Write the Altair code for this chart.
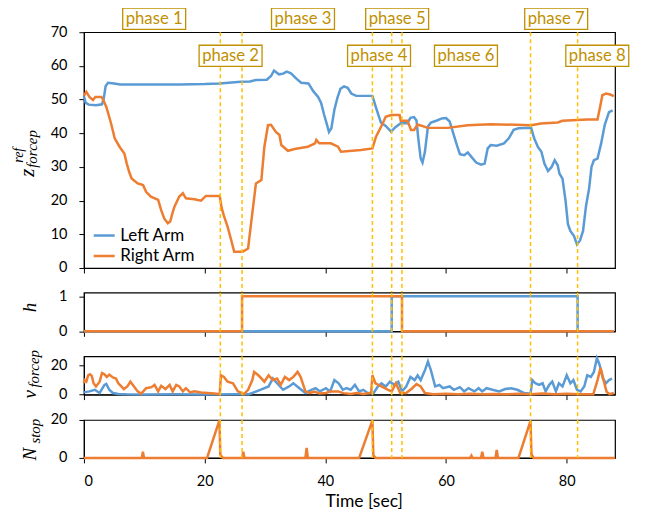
import altair as alt
import pandas as pd

BLUE = "#5B9BD5"
ORANGE = "#ED7D31"
GOLD = "#FFC000"
PHASE_COL = "#BF9000"
FONT = "Lato"
MATH = "Liberation Serif"

# ---------------- data ----------------
left_t = [0.0, 0.3, 0.8, 2.0, 3.0, 3.3, 3.6, 4.0, 5.0, 6.0, 8.0, 12.0, 16.0, 20.0, 22.5, 24.0, 26.0,
          27.5, 28.5, 30.3, 31.0, 31.5, 32.3, 33.0, 33.6, 34.3, 35.2, 36.0, 37.2, 38.0, 38.8, 39.3,
          39.8, 40.2, 40.6, 41.0, 41.5, 42.0, 42.5, 43.1, 43.7, 44.3, 45.1, 47.8, 48.5, 49.2, 50.0,
          50.9, 51.6, 52.5, 53.6, 54.1, 54.7, 55.1, 55.4, 55.8, 56.1, 56.5, 57.0, 57.5, 58.5, 59.3,
          60.0, 60.6, 61.2, 61.8, 62.3, 63.0, 63.6, 64.2, 65.0, 65.8, 66.4, 66.9, 67.4, 68.4, 69.6,
          70.4, 71.2, 72.0, 74.1, 74.6, 75.2, 75.8, 76.3, 76.9, 77.5, 78.0, 78.5, 78.8, 79.3, 79.8,
          80.2, 80.6, 81.2, 81.7, 82.2, 82.7, 83.2, 83.7, 84.1, 84.5, 85.1, 85.7, 86.3, 87.0, 87.6]
left_z = [51.0, 49.0, 48.5, 48.3, 48.6, 50.5, 54.0, 55.0, 54.8, 54.5, 54.5, 54.5, 54.5, 54.6, 54.8,
          55.0, 55.3, 55.4, 55.8, 55.9, 57.0, 58.6, 57.5, 57.7, 58.3, 57.8, 56.2, 55.0, 54.8, 52.5,
          50.8, 49.0, 45.5, 43.0, 40.4, 41.5, 47.0, 50.5, 53.2, 53.9, 53.5, 51.8, 51.1, 51.1, 47.0,
          43.2, 42.2, 40.5, 41.8, 43.0, 43.0, 44.6, 44.8, 43.8, 38.5, 32.5, 31.3, 34.5, 42.0, 43.2,
          43.8, 44.4, 44.5, 43.5, 40.0, 36.5, 33.8, 33.5, 34.3, 33.0, 31.3, 30.7, 31.0, 35.5, 36.5,
          36.3, 37.0, 38.5, 41.0, 41.5, 41.6, 38.5, 36.0, 34.5, 31.0, 28.8, 30.0, 32.0, 30.5, 28.0,
          26.5, 20.0, 13.0, 11.0, 9.5, 7.0, 8.2, 11.0, 18.5, 23.5, 30.0, 32.0, 32.5, 37.0, 42.5,
          46.3, 46.8]

right_t = [0.0, 0.4, 0.9, 1.5, 1.9, 2.9, 3.2, 3.7, 4.5, 5.1, 5.9, 6.7, 7.1, 7.5, 7.9, 8.9, 9.8, 10.3,
           11.1, 12.3, 12.8, 13.3, 13.9, 14.3, 14.7, 15.0, 15.8, 16.4, 16.9, 18.3, 19.4, 20.2, 22.5,
           22.8, 23.2, 23.8, 24.4, 24.9, 26.3, 27.2, 27.7, 28.5, 29.4, 29.9, 30.5, 31.0, 31.8, 32.4,
           32.7, 33.8, 34.9, 37.1, 38.3, 38.5, 39.0, 40.9, 42.1, 42.6, 45.9, 47.8, 48.4, 49.5, 50.0,
           50.9, 52.3, 52.5, 53.6, 54.2, 54.7, 55.3, 57.0, 60.3, 63.6, 67.4, 74.1, 75.7, 78.5, 79.3,
           83.4, 85.1, 85.6, 85.9, 86.5, 87.2, 87.8]
right_z = [51.2, 52.3, 50.8, 49.9, 50.8, 50.8, 49.9, 47.9, 42.9, 38.5, 36.0, 34.0, 31.0, 28.5, 26.6,
           25.1, 24.6, 22.6, 21.2, 20.2, 17.2, 14.7, 13.3, 13.8, 16.5, 18.2, 21.2, 22.2, 20.7, 20.4,
           20.0, 21.4, 21.4, 18.0, 15.5, 12.3, 8.3, 4.8, 4.8, 5.8, 13.3, 25.1, 26.1, 36.0, 42.4, 42.5,
           40.4, 39.5, 36.5, 34.8, 35.3, 36.0, 37.0, 38.0, 37.0, 37.0, 36.0, 34.5, 35.0, 35.5, 39.0,
           42.9, 44.9, 45.4, 45.4, 43.7, 43.7, 41.0, 41.0, 42.6, 41.6, 41.6, 42.4, 42.7, 42.4, 42.9,
           43.2, 43.7, 44.1, 44.1, 48.5, 51.3, 51.8, 51.5, 51.0]

h_left_t = [0.0, 51.0, 81.8, 87.8]
h_left_v = [0, 1, 0, 0]
h_right_t = [0.0, 26.2, 52.7, 87.8]
h_right_v = [0, 1, 0, 0]

v_right_t = [0.0, 0.1, 0.4, 0.7, 1.0, 1.3, 1.6, 2.0, 2.6, 3.0, 3.4, 3.8, 4.2, 4.8, 5.3, 5.7, 6.2, 6.6,
             7.2, 7.7, 8.3, 8.9, 9.5, 10.3, 11.2, 11.7, 12.3, 12.8, 13.5, 14.2, 14.7, 15.3, 15.8, 16.4,
             16.9, 17.6, 18.3, 19.4, 20.5, 21.6, 22.5, 22.7, 23.2, 23.8, 24.7, 25.5, 26.1, 26.5, 27.2,
             27.9, 28.2, 28.9, 29.9, 30.6, 31.3, 32.0, 32.6, 33.3, 34.0, 34.7, 35.4, 35.9, 36.7, 37.4,
             38.2, 39.0, 40.1, 40.8, 42.1, 43.0, 44.2, 45.2, 46.3, 47.6, 47.8, 48.3, 49.3, 50.4, 51.0,
             51.7, 52.4, 53.4, 54.4, 55.1, 55.8, 56.5, 57.9, 60.0, 62.0, 64.0, 66.0, 68.0, 70.0, 72.0,
             74.0, 76.0, 78.0, 80.0, 82.0, 84.4, 85.1, 85.6, 86.1, 86.6, 87.1, 87.8]
v_right_v = [7.8, 10, 9, 13.3, 14, 12.9, 7.8, 5.6, 8.9, 14.9, 14, 12.2, 13.8, 11.8, 11.1, 7.8, 5.6,
             3.8, 5.6, 8.9, 5.6, 2.2, 0.7, 4.4, 5.1, 6.7, 2.2, 6.0, 3.8, 6.7, 2.2, 6.7, 5.6, 2.2, 4.4,
             1.5, 2.2, 1.5, 1.1, 0.7, 0.2, 13.3, 12.2, 8.9, 7.8, 2.2, 1.1, 0.2, 3.3, 10, 15.6, 13.3,
             8.9, 13.3, 10, 11.1, 6.7, 12.2, 10, 12.2, 15.6, 12.2, 2.2, 1.1, 2.0, 0.8, 1.1, 2.2, 2.2,
             1.0, 0.4, 1.0, 0.4, 1.1, 13.3, 7.8, 5.6, 3.3, 2.2, 7.8, 1.1, 1.1, 4.4, 7.3, 5.6, 1.1, 0.2,
             0.5, 0.3, 0.6, 0.2, 0.4, 0.2, 0.5, 0.3, 0.8, 0.3, 0.5, 0.2, 0.2, 10, 18.4, 10, 2, 0.3, 1.1]

v_left_t = [0.0, 0.9, 1.8, 2.6, 3.4, 3.7, 4.2, 4.8, 5.7, 7.0, 10.0, 15.0, 20.0, 25.0, 27.3, 27.9, 29.2,
            30.6, 31.3, 32.0, 33.0, 34.0, 34.7, 35.7, 36.7, 37.7, 38.4, 39.1, 40.1, 40.8, 41.5, 42.2,
            42.9, 43.5, 44.2, 44.9, 45.6, 46.3, 47.0, 48.0, 48.7, 49.3, 50.0, 50.7, 51.4, 52.1, 52.7,
            53.4, 54.1, 54.8, 55.3, 55.8, 56.5, 57.0, 57.5, 58.2, 58.9, 59.5, 60.6, 61.3, 62.3, 63.0,
            63.7, 64.7, 65.4, 66.0, 66.7, 67.7, 68.8, 69.8, 70.8, 71.8, 72.9, 74.0, 74.3, 74.8, 75.4,
            76.0, 76.5, 77.1, 77.6, 78.2, 78.7, 79.3, 80.0, 80.6, 81.1, 81.7, 82.3, 82.9, 83.4, 84.0,
            84.5, 85.0, 85.4, 86.0, 86.5, 87.0, 87.5]
v_left_v = [1.5, 2.2, 3.3, 1.1, 6.7, 7.3, 3.3, 1.1, 0.4, 0.2, 0.1, 0.2, 0.1, 0.2, 0.3, 1.1, 3.3, 5.6,
            11.1, 7.8, 3.3, 5.6, 7.8, 4.4, 1.1, 3.3, 4.4, 2.2, 4.4, 2.2, 10, 7.8, 3.3, 4.4, 3.3, 6.7,
            2.2, 3.3, 1.1, 1.1, 5.6, 7.8, 5.6, 8.9, 6.7, 8.9, 2.2, 5.6, 12.2, 10, 13.3, 10, 16.7, 22.7,
            16.7, 5.6, 6.7, 4.4, 5.6, 3.3, 5.1, 2.2, 4.4, 2.2, 4.4, 2.2, 4.4, 3.3, 2.2, 3.8, 4.4, 3.3,
            1.1, 0.5, 10, 7.8, 6.7, 7.8, 2.2, 6.7, 8.9, 2.2, 7.8, 5.6, 13.3, 7.8, 10, 3.3, 2.2, 5.6,
            13.3, 12.2, 15.6, 25.1, 21.1, 11.1, 7.8, 10, 11.1]

n_right_t = [0.0, 9.6, 9.77, 9.95, 20.4, 22.45, 22.6, 23.0, 26.2, 26.4, 26.6, 36.7, 36.9, 37.1, 45.6,
             47.8, 47.95, 48.3, 64.0, 64.2, 64.4, 65.8, 66.0, 66.2, 68.2, 68.4, 68.6, 72.0, 74.0,
             74.15, 74.5, 88.0]
n_right_v = [0, 0, 3.3, 0, 0, 19.8, 1.8, 0, 0, 3.3, 0, 0, 5.3, 0, 0, 19.8, 1.5, 0, 0, 1.2, 0, 0, 3.2,
             0, 0, 4.2, 0, 0, 19.5, 2.0, 0, 0]

phase_lines = [22.6, 26.2, 47.8, 51.0, 52.7, 74.0, 81.8]
phase_names = ["phase 1", "phase 2", "phase 3", "phase 4", "phase 5", "phase 6", "phase 7", "phase 8"]
phase_x = [11.64, 24.3, 36.3, 48.9, 51.9, 63.3, 78.25, 85.06]
phase_y = [74.0, 63.0, 74.0, 63.0, 74.0, 63.0, 74.0, 63.0]

arms = ["Left Arm", "Right Arm"]

# ---------------- layout ----------------
W = 531.6
H1, H2, H3, H4 = 236, 38.7, 38.3, 38
GAP = 24.7


def long(t_left, v_left, t_right, v_right):
    a = pd.DataFrame({"t": t_left, "v": v_left, "arm": arms[0]})
    b = pd.DataFrame({"t": t_right, "v": v_right, "arm": arms[1]})
    return pd.concat([a, b], ignore_index=True)


def x_enc(last):
    kw = dict(values=[0, 20, 40, 60, 80], grid=False, ticks=True, tickSize=5, tickColor="black",
              domainColor="black", labelFont=FONT, labelFontSize=14.5, labelColor="black",
              labelPadding=12, labelOverlap=False)
    if last:
        kw.update(title="Time [sec]", titleFont=FONT, titleFontSize=17.5, titleFontWeight="normal",
                  titleColor="black", titlePadding=4, titleX=280, labels=True)
    else:
        kw.update(title=None, labels=False)
    return alt.X("t:Q", scale=alt.Scale(domain=[0, 88], nice=False, zero=False), axis=alt.Axis(**kw))


def y_enc(ydom, vals):
    ax = alt.Axis(values=vals, title=None, grid=False, tickSize=5, tickColor="black",
                  domainColor="black", labelFont=FONT, labelFontSize=14.5, labelColor="black",
                  labelPadding=12, labelOverlap=False, format="d")
    return alt.Y("v:Q", scale=alt.Scale(domain=ydom, nice=False, zero=False), axis=ax)


def color_enc(with_legend):
    sc = alt.Scale(domain=arms, range=[BLUE, ORANGE])
    if with_legend:
        lg = alt.Legend(orient="none", legendX=8.3, legendY=191.5, title=None, symbolType="stroke",
                        symbolStrokeWidth=2.5, symbolSize=441, labelFont=FONT, labelFontSize=17,
                        labelColor="black", padding=0, rowPadding=0.5, labelOffset=4)
        return alt.Color("arm:N", scale=sc, legend=lg)
    return alt.Color("arm:N", scale=sc, legend=None)


def rules(ext, last):
    return alt.Chart(pd.DataFrame({"t": phase_lines})).mark_rule(
        color=GOLD, strokeDash=[4, 3], strokeWidth=1.5
    ).encode(x=x_enc(last), y=alt.value(0), y2=alt.value(ext))


def piece(txt, x, y, size):
    return alt.Chart(pd.DataFrame({"s": [txt]})).mark_text(
        angle=270, align="left", baseline="alphabetic", font=MATH, fontStyle="italic",
        fontSize=size, color="black"
    ).encode(text="s:N", x=alt.value(x), y=alt.value(y))


def line_panel(df, ydom, yvals, last, legend, interp="linear"):
    return alt.Chart(df).mark_line(strokeWidth=2.5, interpolate=interp).encode(
        x=x_enc(last), y=y_enc(ydom, yvals), color=color_enc(legend),
    )


# panel 1
Y1 = ([0, 70], [0, 10, 20, 30, 40, 50, 60, 70])
df1 = long(left_t, left_z, right_t, right_z)
ph = pd.DataFrame({"t": phase_x, "v": phase_y, "label": phase_names})
box_path = "M-1,-0.335L1,-0.335L1,0.335L-1,0.335Z"
boxes = alt.Chart(ph).mark_point(shape=box_path, size=3969, filled=True, fill="white",
                                 stroke=PHASE_COL, strokeWidth=1.3, opacity=1).encode(
    x=x_enc(False), y=y_enc(*Y1))
labels = alt.Chart(ph).mark_text(font=FONT, fontSize=16.7, color=PHASE_COL).encode(
    x=x_enc(False), y=y_enc(*Y1), text="label:N")
# invisible (white) layout anchor that fixes the top-left corner of the drawing
anchor = alt.Chart(pd.DataFrame({"a": [0]})).mark_rect(color="white", opacity=1).encode(
    x=alt.value(-74.7), x2=alt.value(-68.7), y=alt.value(-24.3), y2=alt.value(-12.3))

p1 = alt.layer(
    anchor, line_panel(df1, *Y1, False, True),
    rules(H1 + GAP, False), boxes, labels,
    piece("z", -49.7, 144.7, 21), piece("forcep", -46.5, 135.7, 15), piece("ref", -61.2, 130.7, 14),
).properties(width=W, height=H1)

# panel 2
df2 = long(h_left_t, h_left_v, h_right_t, h_right_v)
p2 = alt.layer(
    line_panel(df2, [0, 1.1], [0, 1], False, False, interp="step-after"),
    rules(H2 + GAP, False), piece("h", -47.7, 19.7, 19),
).properties(width=W, height=H2)

# panel 3
df3 = long(v_left_t, v_left_v, v_right_t, v_right_v)
p3 = alt.layer(
    line_panel(df3, [0, 26.4], [0, 20], False, False),
    rules(H3 + GAP, False), piece("v", -47.7, 42.3, 19), piece("forcep", -44.5, 31.3, 15),
).properties(width=W, height=H3)

# panel 4
df4 = pd.DataFrame({"t": n_right_t, "v": n_right_v, "arm": arms[1]})
p4 = alt.layer(
    line_panel(df4, [0, 20], [0, 20], True, False),
    rules(H4, True), piece("N", -47.7, 40.7, 19), piece("stop", -43.7, 23.7, 15),
).properties(width=W, height=H4)

chart = alt.vconcat(p1, p2, p3, p4, spacing=GAP, bounds="flush").properties(
    padding={"left": 0, "top": -4, "right": 5, "bottom": 0}
).configure_view(stroke="black", strokeWidth=1.2)

chart.save("out.html", embed_options={"renderer": "svg", "actions": False})
